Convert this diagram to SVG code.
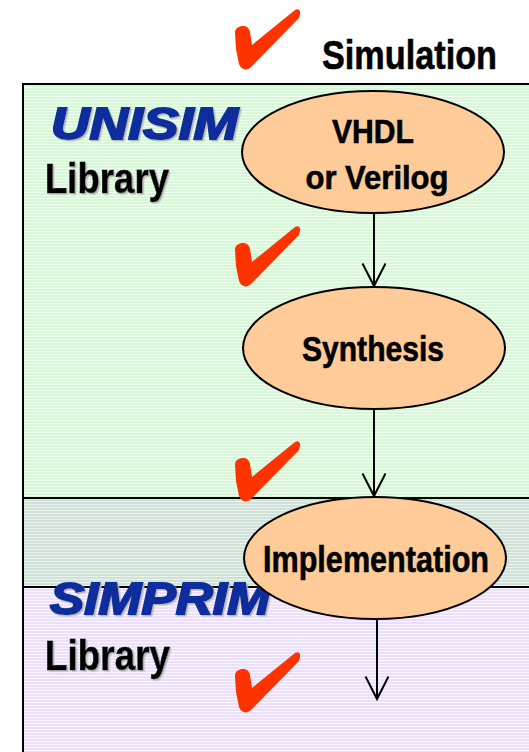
<svg xmlns="http://www.w3.org/2000/svg" width="529" height="752" viewBox="0 0 529 752">
<style>
.node{fill:#ffcc99;stroke:#000;stroke-width:2}
.lbl{font-family:"Liberation Sans",Arial,sans-serif;font-weight:bold;fill:#000;stroke:#000;stroke-width:0.6;text-anchor:middle}
.lib{font-family:"Liberation Sans",Arial,sans-serif;font-weight:bold;fill:#000;stroke:#000;stroke-width:0.6;filter:url(#sh)}
.brand{font-family:"Liberation Sans",Arial,sans-serif;font-weight:bold;font-style:italic;fill:#0a2d9c;stroke:#0a2d9c;stroke-width:2;filter:url(#sh)}
.box{stroke:#000;stroke-width:2}
.conn{stroke:#000;stroke-width:2;fill:none}
.check{fill:#ff3300}
</style>
<defs>
<pattern id="pg" width="8" height="3" patternUnits="userSpaceOnUse"><rect width="8" height="3" fill="#d6f8d6"/><rect width="8" height="1" fill="#f2fff2"/></pattern>
<pattern id="pp" width="8" height="3" patternUnits="userSpaceOnUse"><rect width="8" height="3" fill="#ebdffa"/><rect width="8" height="1" fill="#faf6ff"/></pattern>
<pattern id="po" width="8" height="3" patternUnits="userSpaceOnUse"><rect width="8" height="3" fill="#d0e2d8"/><rect width="8" height="1" fill="#e9f2ed"/></pattern>
<filter id="sh" x="-10%" y="-10%" width="130%" height="140%"><feDropShadow dx="1.5" dy="1.5" stdDeviation="0.3" flood-color="#b8b8b8"/></filter>
<path id="chk" class="check" d="M 0,24 C 0,19 4,17 8,17 C 12,17 14,19 15,23 L 17,36 L 60,1 C 63,-1 66,1 65,5 L 64,9 L 16,58 C 12,62 6,61 4,55 L 1,40 Z"/>
<marker id="arr" markerWidth="30" markerHeight="30" refX="23" refY="12" orient="auto" markerUnits="userSpaceOnUse" viewBox="0 0 30 30"><path d="M0.5,0.5 L23,12 L0.5,23.5" fill="none" stroke="#000" stroke-width="2"/></marker>
</defs>
<g id="backgrounds">
<rect x="23" y="498" width="520" height="270" fill="url(#pp)" class="box"/>
<rect x="23" y="84" width="520" height="503" fill="url(#pg)" class="box"/>
<rect x="24" y="499" width="519" height="87" fill="url(#po)"/>
<line x1="23" y1="498" x2="543" y2="498" class="box"/>
<line x1="23" y1="587" x2="543" y2="587" class="box"/>
</g>
<g id="checks">
<use href="#chk" x="235" y="9"/>
<use href="#chk" x="235" y="226"/>
<use href="#chk" x="235" y="441"/>
<use href="#chk" x="235" y="652"/>
</g>
<g id="labels">
<text x="322" y="69" class="lbl" style="text-anchor:start" font-size="40" textLength="175" lengthAdjust="spacingAndGlyphs">Simulation</text>
<text x="51" y="139" class="brand" font-size="45" textLength="187" lengthAdjust="spacingAndGlyphs">UNISIM</text>
<text x="45" y="193" class="lib" font-size="43" textLength="124" lengthAdjust="spacingAndGlyphs">Library</text>
<text x="50" y="614" class="brand" font-size="45" textLength="220" lengthAdjust="spacingAndGlyphs">SIMPRIM</text>
<text x="45" y="670" class="lib" font-size="43" textLength="125" lengthAdjust="spacingAndGlyphs">Library</text>
</g>
<g id="connectors">
<line x1="374" y1="214" x2="374" y2="286" class="conn" marker-end="url(#arr)"/>
<line x1="374" y1="409" x2="374" y2="496" class="conn" marker-end="url(#arr)"/>
<line x1="377" y1="620" x2="377" y2="699" class="conn" marker-end="url(#arr)"/>
</g>
<g id="node-hdl">
<ellipse cx="373" cy="152" rx="131" ry="61" class="node"/>
<text x="373" y="143" class="lbl" font-size="34" textLength="82" lengthAdjust="spacingAndGlyphs">VHDL</text>
<text x="377" y="189" class="lbl" font-size="34" textLength="143" lengthAdjust="spacingAndGlyphs">or Verilog</text>
</g>
<g id="node-synthesis">
<ellipse cx="374" cy="348" rx="131" ry="61" class="node"/>
<text x="373" y="361" class="lbl" font-size="35" textLength="142" lengthAdjust="spacingAndGlyphs">Synthesis</text>
</g>
<g id="node-implementation">
<ellipse cx="375" cy="558" rx="131" ry="61" class="node"/>
<text x="376" y="572" class="lbl" font-size="36" textLength="226" lengthAdjust="spacingAndGlyphs">Implementation</text>
</g>
</svg>
